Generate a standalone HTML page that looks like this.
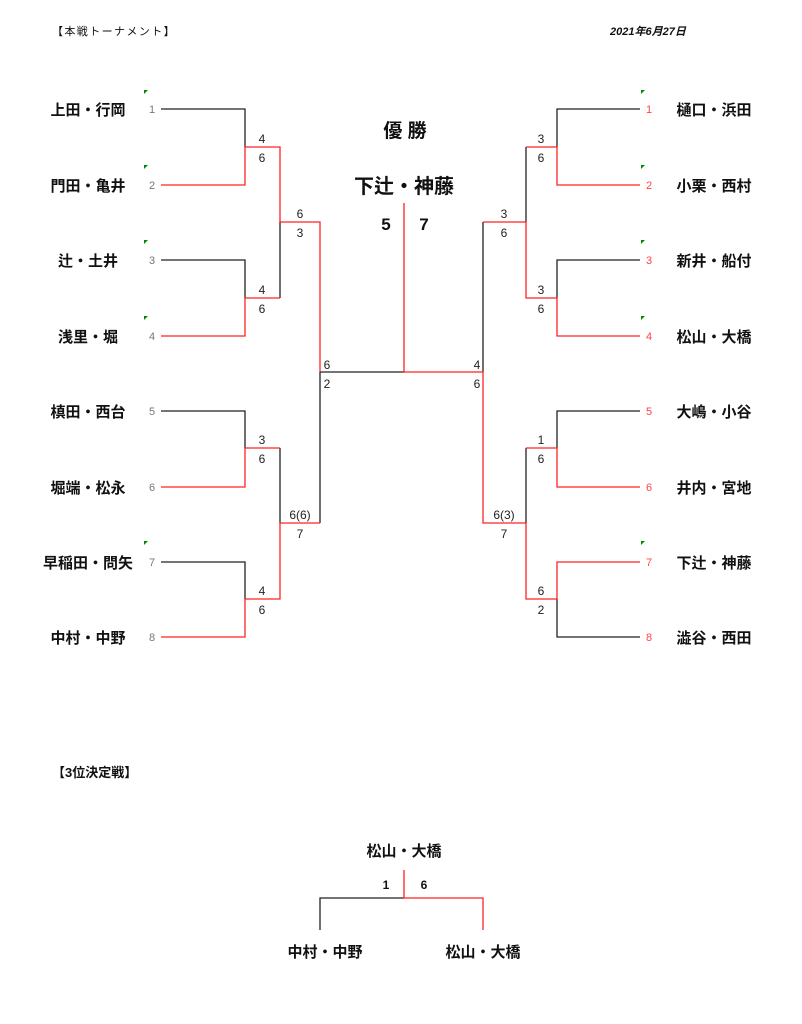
<!DOCTYPE html>
<html><head><meta charset="utf-8"><style>
html,body{margin:0;padding:0;background:#fff;width:802px;height:1024px;overflow:hidden}
svg{display:block}
.n{font:bold 15px "Liberation Sans","Noto Sans CJK JP",sans-serif;fill:#111}
.s{font:11px "Liberation Sans",sans-serif;fill:#777}
.sr{font:11px "Liberation Sans",sans-serif;fill:#f44}
.c{font:12px "Liberation Sans",sans-serif;fill:#222}
.k{stroke:#222;stroke-width:1.3;fill:none}
.r{stroke:#f22;stroke-width:1.3;fill:none}
.g{fill:#080}
</style></head><body>
<svg width="802" height="1024" viewBox="0 0 802 1024" xmlns="http://www.w3.org/2000/svg">
<text x="52" y="35" style="font:11px 'Liberation Sans','Noto Sans CJK JP',sans-serif;letter-spacing:1.4px" fill="#111">【本戦トーナメント】</text>
<text x="610" y="35" style="font:italic bold 11px 'Liberation Sans','Noto Sans CJK JP',sans-serif" fill="#111">2021年6月27日</text>

<text x="405" y="137" text-anchor="middle" class="n" style="font-size:19px">優  勝</text>
<text x="404" y="193" text-anchor="middle" class="n" style="font-size:20px">下辻・神藤</text>
<text x="386" y="230" text-anchor="middle" class="n" style="font-size:17px">5</text>
<text x="424" y="230" text-anchor="middle" class="n" style="font-size:17px">7</text>

<g class="n" text-anchor="middle">
<text x="88" y="115">上田・行岡</text><text x="88" y="191">門田・亀井</text>
<text x="88" y="266">辻・土井</text><text x="88" y="342">浅里・堀</text>
<text x="88" y="417">槙田・西台</text><text x="88" y="493">堀端・松永</text>
<text x="88" y="568">早稲田・問矢</text><text x="88" y="643">中村・中野</text>
</g>
<g class="n" text-anchor="middle">
<text x="714" y="115">樋口・浜田</text><text x="714" y="191">小栗・西村</text>
<text x="714" y="266">新井・船付</text><text x="714" y="342">松山・大橋</text>
<text x="714" y="417">大嶋・小谷</text><text x="714" y="493">井内・宮地</text>
<text x="714" y="568">下辻・神藤</text><text x="714" y="643">澁谷・西田</text>
</g>
<g class="s" text-anchor="middle">
<text x="152" y="113">1</text><text x="152" y="189">2</text><text x="152" y="264">3</text><text x="152" y="340">4</text>
<text x="152" y="415">5</text><text x="152" y="491">6</text><text x="152" y="566">7</text><text x="152" y="641">8</text>
</g>
<g class="sr" text-anchor="middle">
<text x="649" y="113">1</text><text x="649" y="189">2</text><text x="649" y="264">3</text><text x="649" y="340">4</text>
<text x="649" y="415">5</text><text x="649" y="491">6</text><text x="649" y="566">7</text><text x="649" y="641">8</text>
</g>
<g class="g">
<polygon points="144,90 148,90 144,94"/><polygon points="144,165 148,165 144,169"/><polygon points="144,240 148,240 144,244"/><polygon points="144,316 148,316 144,320"/><polygon points="144,541 148,541 144,545"/>
<polygon points="641,90 645,90 641,94"/><polygon points="641,165 645,165 641,169"/><polygon points="641,240 645,240 641,244"/><polygon points="641,316 645,316 641,320"/><polygon points="641,541 645,541 641,545"/>
</g>

<path class="k" d="M161,109H245V147 M161,260H245V298 M161,411H245V448 M161,562H245V599 M280,222V298 M280,448V523 M320,372V523 M320,372H404"/>
<path class="r" d="M161,185H245V147H280V222H320V372 M161,336H245V298H280 M161,487H245V448H280 M161,637H245V599H280V523H320"/>
<path class="k" d="M640,109H557V147 M640,260H557V298 M640,411H557V448 M640,637H557V599 M526,147V222 M526,448V523 M483,222V372"/>
<path class="r" d="M640,185H557V147H526 M640,336H557V298H526V222H483 M640,487H557V448H526 M640,562H557V599H526V523H483V372H404V203"/>

<g class="c" text-anchor="middle">
<text x="262" y="143">4</text><text x="262" y="162">6</text>
<text x="262" y="294">4</text><text x="262" y="313">6</text>
<text x="262" y="444">3</text><text x="262" y="463">6</text>
<text x="262" y="595">4</text><text x="262" y="614">6</text>
<text x="300" y="218">6</text><text x="300" y="237">3</text>
<text x="300" y="519">6(6)</text><text x="300" y="538">7</text>
<text x="327" y="369">6</text><text x="327" y="388">2</text>
<text x="541" y="143">3</text><text x="541" y="162">6</text>
<text x="541" y="294">3</text><text x="541" y="313">6</text>
<text x="541" y="444">1</text><text x="541" y="463">6</text>
<text x="541" y="595">6</text><text x="541" y="614">2</text>
<text x="504" y="218">3</text><text x="504" y="237">6</text>
<text x="504" y="519">6(3)</text><text x="504" y="538">7</text>
<text x="477" y="369">4</text><text x="477" y="388">6</text>
</g>

<text x="52" y="777" class="n" style="font-size:13px">【3位決定戦】</text>
<text x="404" y="856" text-anchor="middle" class="n">松山・大橋</text>
<text x="386" y="889" text-anchor="middle" class="n" style="font-size:12px">1</text>
<text x="424" y="889" text-anchor="middle" class="n" style="font-size:12px">6</text>
<path class="k" d="M320,930V898H404"/>
<path class="r" d="M404,870V898H483V930"/>
<text x="325" y="957" text-anchor="middle" class="n">中村・中野</text>
<text x="483" y="957" text-anchor="middle" class="n">松山・大橋</text>
</svg>
</body></html>
